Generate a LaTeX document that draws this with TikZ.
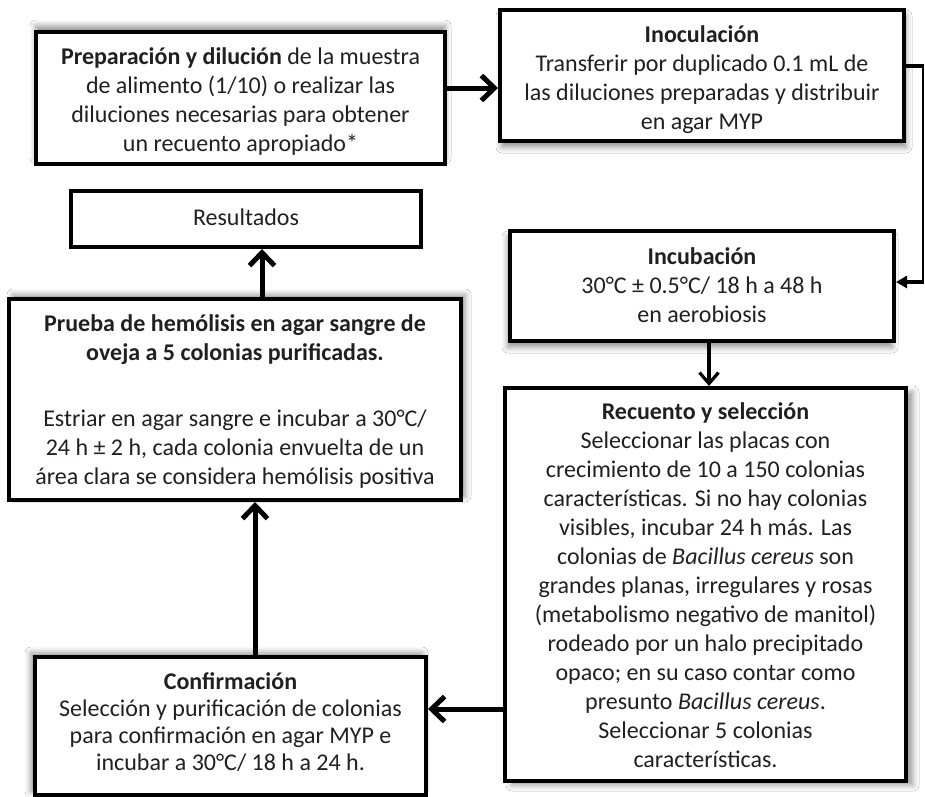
\documentclass[tikz,border=0pt]{standalone}
\usepackage{fontspec}
\setmainfont{Carlito}
\usetikzlibrary{arrows.meta,shadows.blur}
\definecolor{txt}{HTML}{231F20}
\newcommand\topst[1]{\rule[-8.5pt]{0pt}{\dimexpr 29pt+#1\relax}}
\newcommand\botst[1]{\rule[\dimexpr -8.5pt-#1\relax]{0pt}{\dimexpr 29pt+#1\relax}}
\begin{document}
\begin{tikzpicture}[x=1pt,y=-1pt,
  font=\fontsize{24}{29}\selectfont,
  box/.style={draw=black, line width=4pt, fill=white, align=center, inner sep=0pt, text=txt},
  shup/.style={blur shadow={shadow xshift=0pt,shadow yshift=6pt,shadow blur radius=6pt,shadow opacity=45}},
  shdown/.style={blur shadow={shadow xshift=2pt,shadow yshift=-6pt,shadow blur radius=6pt,shadow opacity=45}},
  shdownl/.style={blur shadow={shadow xshift=-2pt,shadow yshift=-6pt,shadow blur radius=6pt,shadow opacity=45}},
  shupr/.style={blur shadow={shadow xshift=4pt,shadow yshift=4pt,shadow blur radius=6pt,shadow opacity=45}},
  shupl/.style={blur shadow={shadow xshift=-4pt,shadow yshift=4pt,shadow blur radius=6pt,shadow opacity=45}},
  shright/.style={blur shadow={shadow xshift=7pt,shadow yshift=-4pt,shadow blur radius=6pt,shadow opacity=40}},
  thk/.style={line width=5pt, draw=black, -{Straight Barb[length=13pt,width=25pt]}},
  med/.style={line width=3.2pt, draw=black, -{Straight Barb[length=11pt,width=19pt]}}
]
\fill[white] (0,0) rectangle (925,796);
\useasboundingbox (0,0) rectangle (925,796);

\node[box, shup, minimum width=409pt, minimum height=132pt] (b1) at (240.5,98)
 {\topst{8pt}\textbf{Preparación y dilución} de la muestra\\de alimento (1/10) o realizar las\\diluciones necesarias para obtener\\un recuento apropiado*\botst{0pt}};

\node[box, shdown, minimum width=404pt, minimum height=131pt] (b2) at (702,75.5)
 {\topst{8pt}\textbf{Inoculación}\\Transferir por duplicado 0.1 mL de\\las diluciones preparadas y distribuir\\en agar MYP\botst{0pt}};

\node[box, minimum width=350pt, minimum height=56pt] (res) at (246,219)
 {\topst{0pt}Resultados};

\node[box, shdownl, minimum width=384pt, minimum height=110pt] (b3) at (702,286)
 {\topst{2pt}\textbf{Incubación}\\30°C ± 0.5°C/ 18 h a 48 h\\en aerobiosis\botst{0pt}};

\node[box, shupr, minimum width=452pt, minimum height=201pt] (b4) at (235,399.5)
 {\topst{5pt}\textbf{Prueba de hemólisis en agar sangre de}\\\textbf{oveja a 5 colonias purificadas.}\\[37pt]Estriar en agar sangre e incubar a 30°C/\\24 h ± 2 h, cada colonia envuelta de un\\área clara se considera hemólisis positiva\botst{0pt}};

\node[box, shright, minimum width=401pt, minimum height=393pt] (b5) at (705.5,584.5)
 {\topst{5pt}\textbf{Recuento y selección}\\Seleccionar las placas con\\crecimiento de 10 a 150 colonias\\características. Si no hay colonias\\visibles, incubar 24 h más. Las\\colonias de \textit{Bacillus cereus} son\\grandes planas, irregulares y rosas\\(metabolismo negativo de manitol)\\rodeado por un halo precipitado\\opaco; en su caso contar como\\presunto \textit{Bacillus cereus}.\\Seleccionar 5 colonias\\características.\botst{0pt}};

\node[box, shupl, minimum width=391pt, minimum height=138pt, font=\fontsize{24}{27}\selectfont] (conf) at (230.5,726)
 {\topst{0pt}\textbf{Confirmación}\\Selección y purificación de colonias\\para confirmación en agar MYP e\\incubar a 30°C/ 18 h a 24 h.\botst{5pt}};

% connectors
\coordinate (a1s) at ([yshift=10pt]b1.east);
\draw[thk] (a1s) -- (a1s -| b2.west);

\coordinate (e0) at ([yshift=9.5pt]b2.east);
\coordinate (e1) at (923,66);
\coordinate (e2) at (923,282);
\coordinate (e3) at ([yshift=4pt]b3.east);
\draw[line width=3.5pt] (e0) -- (e1);
\draw[line width=2pt] ([yshift=1.75pt]e1) -- ([yshift=-1.75pt]e2);
\draw[line width=3.5pt, -{Triangle[length=11pt,width=12pt]}] (e2) -- (e3);

\coordinate (a5s) at ([xshift=7pt]b3.south);
\draw[med] (a5s) -- (a5s |- b5.north);

\coordinate (a2s) at ([xshift=27pt]b4.north);
\draw[thk] (a2s) -- (a2s |- res.south);

\coordinate (a3s) at ([xshift=24.5pt]conf.north);
\draw[thk] (a3s) -- (a3s |- b4.south);

\coordinate (a4s) at ([yshift=-124.5pt]b5.west);
\draw[thk] (a4s) -- (a4s -| conf.east);
\end{tikzpicture}
\end{document}
